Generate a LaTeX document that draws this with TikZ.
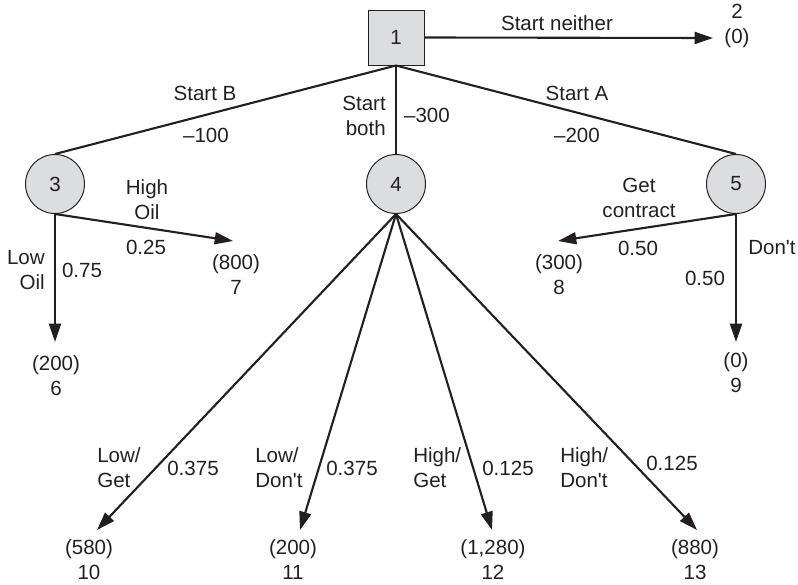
\documentclass[tikz,border=0pt]{standalone}
\usepackage{fontspec}
\setmainfont{Liberation Sans}
\usetikzlibrary{arrows.meta, positioning}
\definecolor{nodegray}{RGB}{220,221,223}
\definecolor{inkgray}{RGB}{35,31,32}

\begin{document}
\begin{tikzpicture}[
      x=0.025cm, y=-0.025cm,
      every node/.style={font=\fontsize{14.6}{17.8}\selectfont, text=inkgray},
      decision/.style={rectangle, draw=inkgray, line width=0.7pt, fill=nodegray, minimum width=1.4cm, minimum height=1.375cm},
      chance/.style={circle, draw=inkgray, line width=0.7pt, fill=nodegray, minimum size=1.475cm, inner sep=0pt},
      branch/.style={line width=1.5pt, draw=inkgray},
      arrow/.style={branch, -{Triangle[length=13pt, width=8.5pt]}},
      lbl/.style={inner sep=0pt, align=center},
      payoff/.style={inner sep=0pt, align=center}
    ]
    \useasboundingbox (0,0) rectangle (798,585);

    % decision and chance nodes
    \node[decision] (dec1) at (396,37.5) {1};
    \node[chance] (ch3) at (55,184) {3};
    \node[chance] (ch4) at (396,184) {4};
    \node[chance] (ch5) at (736,184) {5};

    % arrow ends
    \coordinate (t2) at (713,38);
    \coordinate (t6) at (55,342);
    \coordinate (t7) at (233,241);
    \coordinate (t8) at (558,241);
    \coordinate (t9) at (736,342);
    \coordinate (t10) at (97,530);
    \coordinate (t11) at (300,530);
    \coordinate (t12) at (492,530);
    \coordinate (t13) at (697,530);

    % payoffs
    \node[payoff] (pay2) at (737,25.5) {2\\(0)};
    \node[payoff] (pay6) at (56,375.5) {(200)\\6};
    \node[payoff] (pay7) at (236,275) {(800)\\7};
    \node[payoff] (pay8) at (559,275) {(300)\\8};
    \node[payoff] (pay9) at (736,373) {(0)\\9};
    \node[payoff] (pay10) at (89,560) {(580)\\10};
    \node[payoff] (pay11) at (293,560) {(200)\\11};
    \node[payoff] (pay12) at (493,560) {(1,280)\\12};
    \node[payoff] (pay13) at (695,560) {(880)\\13};

    % branches
    \draw[arrow] (dec1.east) -- (t2);
    \draw[branch] (dec1.south) -- (ch3.north);
    \draw[branch] (dec1.south) -- (ch4.north);
    \draw[branch] (dec1.south) -- (ch5.north);
    \draw[arrow] (ch3.south) -- (t6);
    \draw[arrow] (ch3.south) -- (t7);
    \draw[arrow] (ch5.south) -- (t8);
    \draw[arrow] (ch5.south) -- (t9);
    \draw[arrow] (ch4.south) -- (t10);
    \draw[arrow] (ch4.south) -- (t11);
    \draw[arrow] (ch4.south) -- (t12);
    \draw[arrow] (ch4.south) -- (t13);

    % branch labels
    \node[lbl] (neither) at (557,23) {Start neither};
    \node[lbl] (startB) at (205,93) {Start B};
    \node[lbl] (costB) at (206,135) {\textendash100};
    \node[lbl, align=right, anchor=east] (both) at (386,115.5) {Start\\both};
    \node[lbl] (costboth) at (427,115) {\textendash300};
    \node[lbl] (startA) at (577,93) {Start A};
    \node[lbl] (costA) at (577,135) {\textendash200};
    \node[lbl] (highoil) at (147,199.5) {High\\Oil};
    \node[lbl] (phigh) at (146,247) {0.25};
    \node[lbl, align=right, anchor=east] (lowoil) at (45,270) {Low\\Oil};
    \node[lbl] (plow) at (82,270) {0.75};
    \node[lbl] (getc) at (639,197.5) {Get\\contract};
    \node[lbl] (pget) at (638,248) {0.50};
    \node[lbl, anchor=west] (dont) at (748,248) {Don\textquotesingle t};
    \node[lbl] (pdont) at (705,278) {0.50};
    \node[lbl, align=left, anchor=west] (lowget) at (97,467.5) {Low/\\Get};
    \node[lbl] (p10) at (193,468) {0.375};
    \node[lbl, align=left, anchor=west] (lowdont) at (255,467.5) {Low/\\Don\textquotesingle t};
    \node[lbl] (p11) at (352,468) {0.375};
    \node[lbl, align=left, anchor=west] (highget) at (413,467.5) {High/\\Get};
    \node[lbl] (p12) at (508,468) {0.125};
    \node[lbl, align=left, anchor=west] (highdont) at (560,467.5) {High/\\Don\textquotesingle t};
    \node[lbl] (p13) at (672,463) {0.125};
  \end{tikzpicture}
\end{document}
